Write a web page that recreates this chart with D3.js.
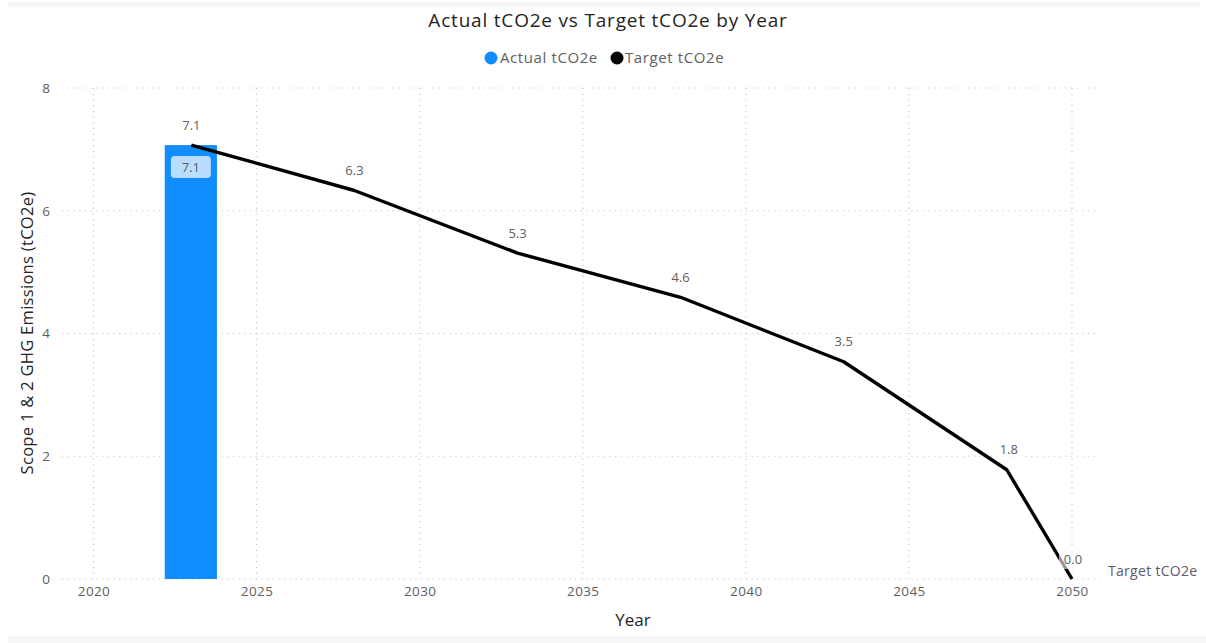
<!DOCTYPE html>
<html><head><meta charset="utf-8">
<script src="https://cdn.jsdelivr.net/npm/d3@7"></script>
<style>
html,body{margin:0;padding:0;background:#fff;}
svg{display:block;font-family:"Open Sans","Noto Sans",sans-serif;}
</style></head>
<body><svg id="c" width="1206" height="643"></svg>
<script>
const actualYears = [2023];
const actualValues = [7.07];
const targetYears = [2023, 2028, 2033, 2038, 2043, 2048, 2050];
const targetValues = [7.07, 6.33, 5.31, 4.59, 3.54, 1.78, 0.0];
const xTicks = [2020, 2025, 2030, 2035, 2040, 2045, 2050];
const yTicks = [0, 2, 4, 6, 8];

const svg = d3.select("#c");
svg.append("rect").attr("x",8).attr("y",2).attr("width",1192).attr("height",5).attr("fill","#f6f6f6");
svg.append("rect").attr("x",8).attr("y",636).attr("width",1198).attr("height",7).attr("fill","#f6f6f6");

const x = d3.scaleLinear().domain([2020, 2050]).range([93.5, 1072]);
const y = d3.scaleLinear().domain([0, 8]).range([579, 88]);
const gridL = 62, gridR = 1100;

const g = svg.append("g");
g.selectAll(".hg").data(yTicks).join("line")
  .attr("x1", gridL).attr("x2", gridR)
  .attr("y1", d=>y(d)).attr("y2", d=>y(d))
  .attr("stroke","#c8c8c8").attr("stroke-width",1.2).attr("stroke-dasharray","1.2,4.5");
g.selectAll(".vg").data(xTicks).join("line")
  .attr("x1", d=>x(d)).attr("x2", d=>x(d))
  .attr("y1", y(8)).attr("y2", y(0))
  .attr("stroke","#c8c8c8").attr("stroke-width",1.2).attr("stroke-dasharray","1.2,4.5");

const yAxis = d3.axisLeft(y).tickValues(yTicks).tickSize(0).tickPadding(0);
const ya = svg.append("g").attr("transform","translate(50,0)").call(yAxis);
ya.select(".domain").remove();
ya.selectAll("text").attr("fill","#605e5c").style("font-size","13.5px").attr("font-family","'Open Sans',sans-serif");

const xAxis = d3.axisBottom(x).tickValues(xTicks).tickFormat(d3.format("d")).tickSize(0).tickPadding(0);
const xa = svg.append("g").attr("transform","translate(0,586)").call(xAxis);
xa.select(".domain").remove();
xa.selectAll("text").attr("fill","#605e5c").style("font-size","13.5px").style("letter-spacing","0.4px").attr("dy","0.71em").attr("font-family","'Open Sans',sans-serif");

const barW = x(2021.6) - x(2020);
svg.selectAll(".bar").data(actualYears).join("rect")
  .attr("x", (d)=>x(d)-barW/2 - 0.5).attr("width", barW)
  .attr("y", (d,i)=>y(actualValues[i])).attr("height",(d,i)=>y(0)-y(actualValues[i]))
  .attr("fill","#118dff");
actualYears.forEach((d,i)=>{
  const cx = x(d)-0.5, cy = y(actualValues[i]) + 22;
  svg.append("rect").attr("x",cx-20).attr("y",cy-11).attr("width",40).attr("height",22).attr("rx",4)
    .attr("fill","#ffffff").attr("fill-opacity",0.7);
  svg.append("text").attr("x",cx).attr("y",cy).attr("text-anchor","middle").attr("dy","0.35em")
    .attr("fill","#605e5c").style("font-size","13px").text(d3.format(".1f")(actualValues[i]));
});

const line = d3.line().x(d=>x(d[0])).y(d=>y(d[1]));
const pts = targetYears.map((d,i)=>[d,targetValues[i]]);
svg.append("path").datum(pts).attr("d",line).attr("fill","none")
  .attr("stroke","#000").attr("stroke-width",3.4).attr("stroke-linejoin","round");

pts.forEach(p=>{
  const cx = x(p[0]) + (p[0]===2048?2:0) + (p[0]===2050?1:0), cy = y(p[1]) - 20;
  svg.append("rect").attr("x",cx-14).attr("y",cy-10).attr("width",28).attr("height",20)
    .attr("fill","#ffffff").attr("fill-opacity",0.6);
  svg.append("text").attr("x",cx).attr("y",cy).attr("text-anchor","middle").attr("dy","0.35em")
    .attr("fill","#605e5c").style("font-size","13px").text(d3.format(".1f")(p[1]));
});

svg.append("text").attr("x",1108).attr("y",571).attr("dy","0.35em")
  .attr("fill","#5f5a6e").style("font-size","14px").style("letter-spacing","0.3px").text("Target tCO2e");

svg.append("text").attr("x",608).attr("y",20).attr("text-anchor","middle").attr("dy","0.35em")
  .attr("fill","#252423").style("font-size","19px").style("letter-spacing","0.8px").text("Actual tCO2e vs Target tCO2e by Year");

const leg = svg.append("g");
leg.append("circle").attr("cx",491).attr("cy",58).attr("r",6.5).attr("fill","#118dff");
leg.append("text").attr("x",500).attr("y",58).attr("dy","0.35em").attr("fill","#605e5c").style("font-size","15px").style("letter-spacing","0.6px").text("Actual tCO2e");
leg.append("circle").attr("cx",617).attr("cy",58).attr("r",6.5).attr("fill","#000");
leg.append("text").attr("x",625).attr("y",58).attr("dy","0.35em").attr("fill","#605e5c").style("font-size","15px").style("letter-spacing","0.6px").text("Target tCO2e");

svg.append("text").attr("x",633).attr("y",620).attr("text-anchor","middle").attr("dy","0.35em")
  .attr("fill","#252423").style("font-size","17px").text("Year");
svg.append("text").attr("transform","translate(27,333) rotate(-90)").attr("text-anchor","middle").attr("dy","0.35em")
  .attr("fill","#252423").style("font-size","16.5px").style("letter-spacing","0.3px").text("Scope 1 & 2 GHG Emissions (tCO2e)");
</script></body></html>
